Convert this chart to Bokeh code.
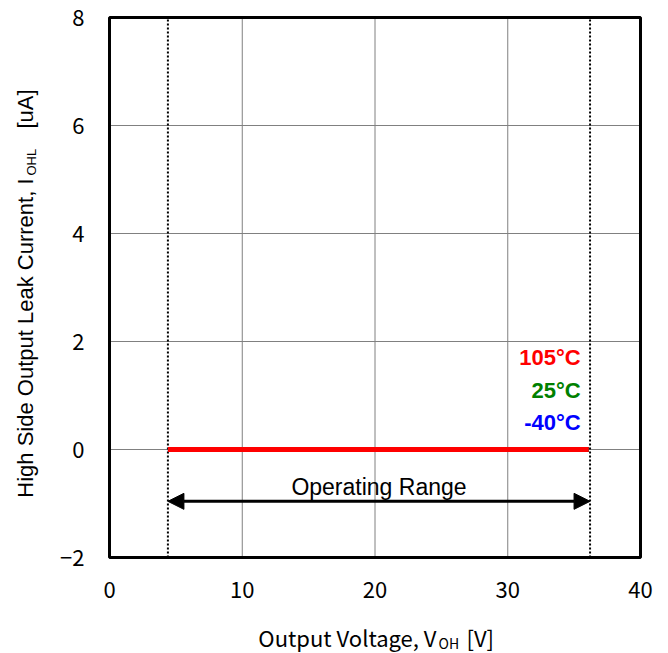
import math
from bokeh.plotting import figure
from bokeh.models import Label, Arrow, NormalHead, FixedTicker, BoxAnnotation, Range1d
from bokeh.embed import file_html
from bokeh.resources import INLINE

# ---- data ----
x_ticks = [0, 10, 20, 30, 40]
y_ticks = [-2, 0, 2, 4, 6, 8]
y_tick_labels = {-2: "\u22122", 0: "0", 2: "2", 4: "4", 6: "6", 8: "8"}
x_grid = [10, 20, 30]
y_grid = [0, 2, 4, 6]

v_oh = [4.4, 10, 20, 30, 36.1]
i_ohl_m40 = [0, 0, 0, 0, 0]
i_ohl_25 = [0, 0, 0, 0, 0]
i_ohl_105 = [0, 0, 0, 0, 0]

op_min = 4.4
op_max = 36.2
arrow_y = -0.96

temp_labels = ["105\u00b0C", "25\u00b0C", "-40\u00b0C"]
temp_colors = ["#ff0000", "#008000", "#0000ff"]
temp_label_y = [1.70, 1.10, 0.50]
temp_label_x = 35.5

X_MIN, X_MAX = 0, 40
Y_MIN, Y_MAX = -2, 8

# ---- layout: pixel box of the plotting area inside the canvas ----
W, H = 664, 653
PX_L, PX_R, PX_T, PX_B = 109, 640, 17, 557
sx = (PX_R - PX_L) / (X_MAX - X_MIN)
sy = (PX_B - PX_T) / (Y_MAX - Y_MIN)

def px_to_x(px):
    return X_MIN + (px - PX_L) / sx

def py_to_y(py):
    return Y_MAX - (py - PX_T) / sy

p = figure(
    width=W, height=H,
    min_border_left=0, min_border_right=0, min_border_top=0, min_border_bottom=0,
    x_range=Range1d(px_to_x(0), px_to_x(W)), y_range=Range1d(py_to_y(H), py_to_y(0)),
    output_backend="svg", toolbar_location=None,
    background_fill_color="white", border_fill_color="white",
)
p.outline_line_color = None
p.xgrid.visible = False
p.ygrid.visible = False

p.xaxis.fixed_location = Y_MIN
p.yaxis.fixed_location = X_MIN
for ax in (p.xaxis, p.yaxis):
    ax.axis_line_color = None
    ax.major_tick_line_color = None
    ax.minor_tick_line_color = None
    ax.major_label_text_font = "Noto Sans CJK JP"
    ax.major_label_text_font_size = "22px"
    ax.major_label_text_color = "black"
p.xaxis.ticker = FixedTicker(ticks=x_ticks)
p.yaxis.ticker = FixedTicker(ticks=y_ticks)
p.yaxis.major_label_overrides = y_tick_labels
p.xaxis.major_label_standoff = 18
p.yaxis.major_label_standoff = 19

# grid lines
p.segment(x0=x_grid, y0=[Y_MIN] * len(x_grid), x1=x_grid, y1=[Y_MAX] * len(x_grid),
          line_color="#808080", line_width=1)
p.segment(x0=[X_MIN] * len(y_grid), y0=y_grid, x1=[X_MAX] * len(y_grid), y1=y_grid,
          line_color="#808080", line_width=1)

# operating range dotted lines
p.segment(x0=[op_min, op_max], y0=[Y_MIN, Y_MIN], x1=[op_min, op_max], y1=[Y_MAX, Y_MAX],
          line_color="black", line_width=2, line_dash="2 2")

# data lines
p.line(v_oh, i_ohl_m40, line_color=temp_colors[2], line_width=5)
p.line(v_oh, i_ohl_25, line_color=temp_colors[1], line_width=5)
p.line(v_oh, i_ohl_105, line_color=temp_colors[0], line_width=5)

# plot box
p.add_layout(BoxAnnotation(left=X_MIN, right=X_MAX, bottom=Y_MIN, top=Y_MAX,
                           fill_color=None, fill_alpha=0, line_color="black",
                           line_alpha=1.0, line_width=3, level="overlay"))

# arrow
p.add_layout(Arrow(
    start=NormalHead(size=16, fill_color="black", line_color="black"),
    end=NormalHead(size=16, fill_color="black", line_color="black"),
    x_start=op_min, y_start=arrow_y, x_end=op_max, y_end=arrow_y,
    line_color="black", line_width=3))

p.add_layout(Label(x=(op_min + op_max) / 2, y=-0.70, text="Operating Range",
                   text_align="center", text_baseline="middle",
                   text_font="Liberation Sans", text_font_size="23px", text_color="black"))

for t, c, yy in zip(temp_labels, temp_colors, temp_label_y):
    p.add_layout(Label(x=temp_label_x, y=yy, text=t, text_align="right",
                       text_baseline="middle", text_font="Liberation Sans",
                       text_font_style="bold", text_font_size="22px", text_color=c))

# ---- axis titles built from pieces (for subscripts) ----
xt_mid = py_to_y(636)
p.add_layout(Label(x=px_to_x(436), y=xt_mid, text="Output Voltage, V", text_align="right",
                   text_baseline="middle", text_font="Noto Sans CJK JP",
                   text_font_size="22px", text_color="black"))
p.add_layout(Label(x=px_to_x(438), y=py_to_y(642), text="OH", text_align="left",
                   text_baseline="middle", text_font="Noto Sans CJK JP",
                   text_font_size="14px", text_color="black"))
p.add_layout(Label(x=px_to_x(466), y=xt_mid, text="[V]", text_align="left",
                   text_baseline="middle", text_font="Noto Sans CJK JP",
                   text_font_size="22px", text_color="black"))

# y title (rotated, reading bottom to top)
yt_x = px_to_x(25)
p.add_layout(Label(x=yt_x, y=py_to_y(178), text="High Side Output Leak Current, I",
                   text_align="right", text_baseline="middle", angle=math.pi / 2,
                   text_font="Liberation Sans", text_font_size="22px", text_color="black"))
p.add_layout(Label(x=px_to_x(31), y=py_to_y(175), text="OHL",
                   text_align="left", text_baseline="middle", angle=math.pi / 2,
                   text_font="Liberation Sans", text_font_size="13px", text_color="black"))
p.add_layout(Label(x=yt_x, y=py_to_y(128), text="[uA]",
                   text_align="left", text_baseline="middle", angle=math.pi / 2,
                   text_font="Liberation Sans", text_font_size="22px", text_color="black"))

open("out.html", "w").write(file_html(p, INLINE))
